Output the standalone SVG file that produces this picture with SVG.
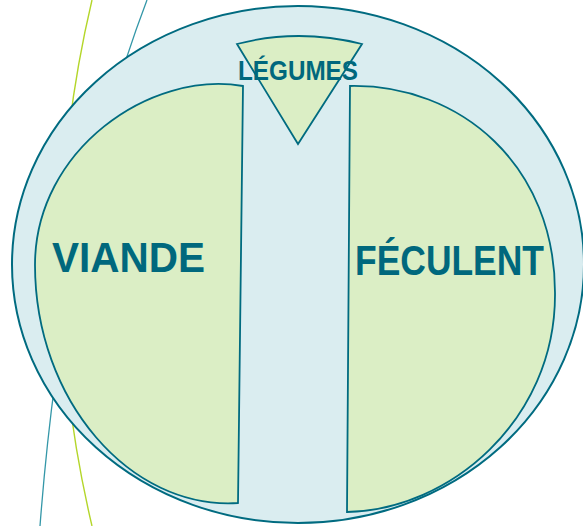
<svg xmlns="http://www.w3.org/2000/svg" width="583" height="526" viewBox="0 0 583 526">
  <style>
    .plate { fill: #daedf0; stroke: #006b80; stroke-width: 2; }
    .part { fill: #dbeec5; stroke: #006b80; stroke-width: 1.8; stroke-linejoin: miter; }
    .lbl { font-family: "Liberation Sans", Arial, sans-serif; font-weight: bold; fill: #00687d; }
    .deco { fill: none; }
  </style>
  <rect width="583" height="526" fill="#ffffff"/>
  <g id="background">
    <path class="deco" d="M92,0 Q30,263 92,526" stroke="#b4d62a" stroke-width="1.4"/>
    <path class="deco" d="M147,0 Q63.4,220 40,526" stroke="#3497a8" stroke-width="1.3"/>
  </g>
  <g id="assiette">
    <ellipse class="plate" cx="298" cy="264.5" rx="286" ry="258.5"/>
  </g>
  <g id="viande">
    <path class="part" d="M243,86 C150,70 35,150 35,265 C35,400 130,510 238,503 Z"/>
    <text class="lbl" x="52" y="272" font-size="43" textLength="153" lengthAdjust="spacingAndGlyphs">VIANDE</text>
  </g>
  <g id="feculent">
    <path class="part" d="M350,86 C460,84 556,165 555,295 C555,420 450,510 347,512 Z"/>
    <text class="lbl" x="355" y="275" font-size="42" textLength="189" lengthAdjust="spacingAndGlyphs">FÉCULENT</text>
  </g>
  <g id="legumes">
    <path class="part" d="M237,44 Q298,28 362,44 L298,144 Z"/>
    <text class="lbl" x="238" y="80" font-size="27" textLength="120" lengthAdjust="spacingAndGlyphs">LÉGUMES</text>
  </g>
</svg>
